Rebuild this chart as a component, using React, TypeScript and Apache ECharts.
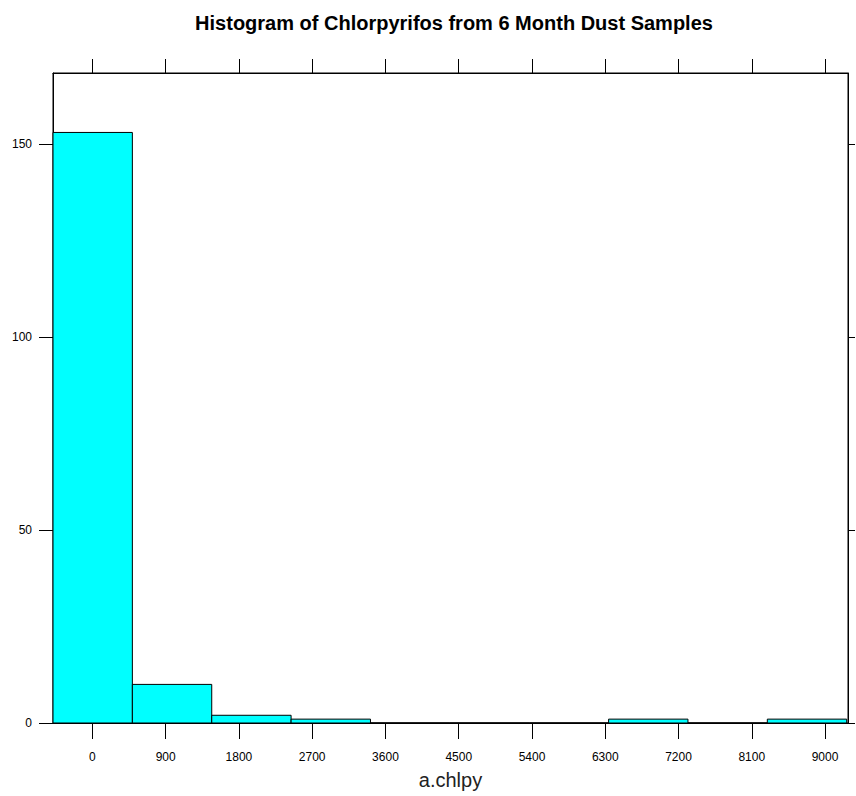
import React, { useEffect, useRef } from "react";
import * as echarts from "echarts";

const binEdges = [-484, 491, 1466, 2441, 3416, 4391, 5366, 6341, 7316, 8291, 9266];
const binCounts = [153, 10, 2, 1, 0, 0, 0, 1, 0, 1];
const xTicks = [0, 900, 1800, 2700, 3600, 4500, 5400, 6300, 7200, 8100, 9000];
const yTicks = [0, 50, 100, 150];
const titleText = "Histogram of Chlorpyrifos from 6 Month Dust Samples";
const xName = "a.chlpy";

export default function App() {
  const ref = useRef<HTMLDivElement>(null);
  useEffect(() => {
    if (!ref.current) return;
    const chart = echarts.init(ref.current, null, { renderer: "svg" });
    const data = binCounts.map((c, i) => [binEdges[i], binEdges[i + 1], c]);
    const xMin = -484;
    const xMax = 9282;
    const yMax = 168.4;
    const labelFont = "'Liberation Sans Narrow', 'Liberation Sans', Arial, sans-serif";
    const fmt = (v: number) => String(v);
    chart.setOption({
      animation: false,
      backgroundColor: "#ffffff",
      title: {
        text: titleText,
        left: 449,
        textAlign: "center",
        top: 8,
        textStyle: {
          fontFamily: "'Liberation Sans', Arial, sans-serif",
          fontWeight: "bold",
          fontSize: 20,
          color: "#000",
        },
      },
      grid: {
        left: 53,
        right: 8,
        top: 73,
        bottom: 73,
        show: true,
        borderColor: "#000",
        borderWidth: 1,
        backgroundColor: "transparent",
        containLabel: false,
        outerBoundsMode: "none",
      },
      xAxis: [
        {
          type: "value",
          min: xMin,
          max: xMax,
          position: "bottom",
          name: xName,
          nameLocation: "middle",
          nameGap: 47,
          nameTextStyle: {
            fontFamily: "'Liberation Sans', Arial, sans-serif",
            fontSize: 20,
            color: "#222",
          },
          axisLine: { show: true, onZero: false, lineStyle: { color: "#000", width: 1 } },
          axisTick: {
            show: true,
            inside: false,
            length: 16,
            customValues: xTicks,
            lineStyle: { color: "#000", width: 1 },
          },
          axisLabel: {
            show: true,
            customValues: xTicks,
            formatter: fmt,
            margin: 28,
            fontFamily: labelFont,
            fontSize: 12,
            color: "#000",
            showMinLabel: true,
            showMaxLabel: true,
          },
          splitLine: { show: false },
        },
        {
          type: "value",
          min: xMin,
          max: xMax,
          position: "top",
          axisLine: { show: true, onZero: false, lineStyle: { color: "#000", width: 1 } },
          axisTick: {
            show: true,
            inside: false,
            length: 14,
            customValues: xTicks,
            lineStyle: { color: "#000", width: 1 },
          },
          axisLabel: { show: false },
          splitLine: { show: false },
        },
      ],
      yAxis: [
        {
          type: "value",
          min: 0,
          max: yMax,
          position: "left",
          axisLine: { show: true, onZero: false, lineStyle: { color: "#000", width: 1 } },
          axisTick: {
            show: true,
            inside: false,
            length: 14,
            customValues: yTicks,
            lineStyle: { color: "#000", width: 1 },
          },
          axisLabel: {
            show: true,
            customValues: yTicks,
            formatter: fmt,
            margin: 21,
            fontFamily: labelFont,
            fontSize: 12,
            color: "#000",
          },
          splitLine: { show: false },
        },
        {
          type: "value",
          min: 0,
          max: yMax,
          position: "right",
          axisLine: { show: true, onZero: false, lineStyle: { color: "#000", width: 1 } },
          axisTick: {
            show: true,
            inside: false,
            length: 7,
            customValues: yTicks,
            lineStyle: { color: "#000", width: 1 },
          },
          axisLabel: { show: false },
          splitLine: { show: false },
        },
      ],
      series: [
        {
          type: "custom",
          xAxisIndex: 0,
          yAxisIndex: 0,
          encode: { x: [0, 1], y: 2 },
          data,
          renderItem: (params: any, api: any) => {
            const p0 = api.coord([api.value(0), api.value(2)]);
            const p1 = api.coord([api.value(1), 0]);
            return {
              type: "rect",
              shape: {
                x: p0[0],
                y: p0[1],
                width: p1[0] - p0[0],
                height: p1[1] - p0[1],
              },
              style: {
                fill: "#00ffff",
                stroke: "#000",
                lineWidth: 1,
              },
            };
          },
        },
      ],
    });
    return () => chart.dispose();
  }, []);
  return (
    <div
      ref={ref}
      style={{ position: "absolute", left: 0, top: 0, width: 856, height: 796 }}
    />
  );
}
